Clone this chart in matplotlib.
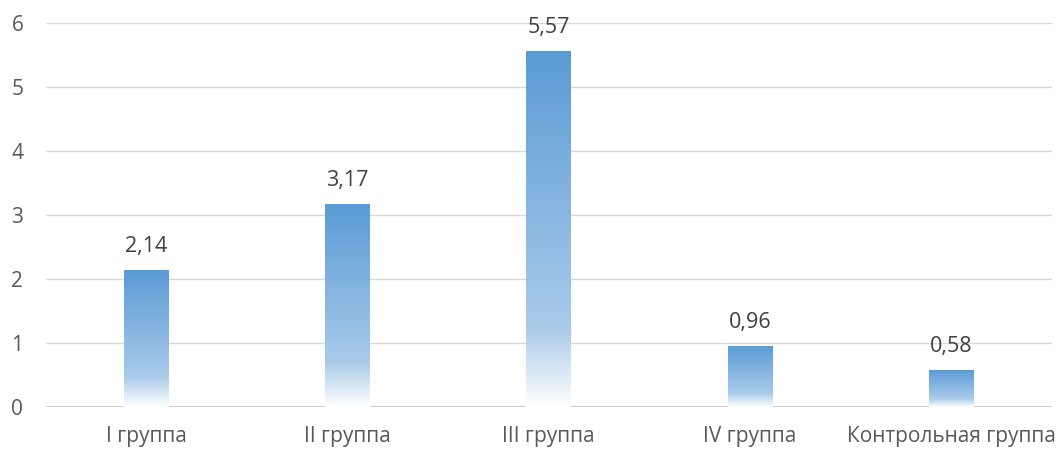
import numpy as np
import matplotlib.pyplot as plt
from matplotlib.colors import LinearSegmentedColormap

groups = ['I группа', 'II группа', 'III группа', 'IV группа', 'Контрольная группа']
values = [2.14, 3.17, 5.57, 0.96, 0.58]
labels = ['2,14', '3,17', '5,57', '0,96', '0,58']

plt.rcParams['font.family'] = ['Open Sans', 'DejaVu Sans']

fig = plt.figure(figsize=(10.59, 4.51), dpi=100)
ax = fig.add_axes([0.043, 0.0976, 0.950, 0.8514])

# vertical fade: white at the base, blue at the top
cmap = LinearSegmentedColormap.from_list(
    'fade', [(0.0, '#ffffff'), (0.22, '#a9cbea'), (1.0, '#5b9bd5')])
grad = np.linspace(0, 1, 256).reshape(-1, 1)

x = np.arange(len(groups))
bars = ax.bar(x, values, width=0.22, color='none', zorder=3)
for b, v in zip(bars, values):
    x0 = b.get_x()
    im = ax.imshow(grad, cmap=cmap, origin='lower', aspect='auto',
                   extent=[x0, x0 + b.get_width(), 0, v], zorder=3)
    im.set_clip_path(b)

for xi, v, t in zip(x, values, labels):
    ax.text(xi, v + 0.2, t, ha='center', va='bottom', fontsize=15.5, color='#404040')

ax.set_xlim(-0.5, 4.5)
ax.set_ylim(0, 6)
ax.set_yticks(range(7))
ax.set_xticks(x)
ax.set_xticklabels(groups)
ax.grid(axis='y', color='#d9d9d9', linewidth=1.0, zorder=0)
ax.set_axisbelow(True)
for s in ax.spines.values():
    s.set_visible(False)
ax.axhline(0, color='#c8c8c8', linewidth=1.2, zorder=1)
ax.tick_params(axis='both', length=0, labelsize=15, colors='#595959')
ax.tick_params(axis='y', pad=16)
ax.tick_params(axis='x', pad=14)

plt.savefig('out.png', dpi=100)
